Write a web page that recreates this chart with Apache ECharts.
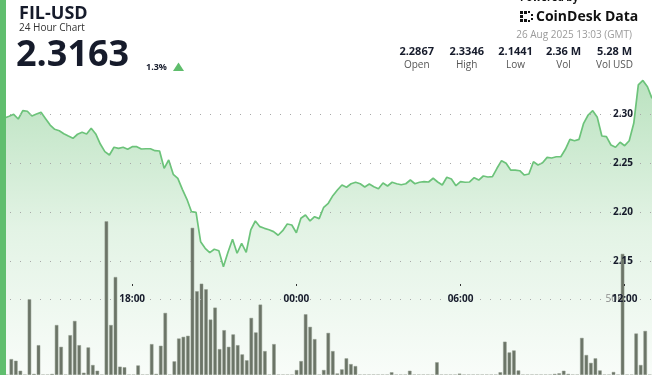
<!DOCTYPE html>
<html><head><meta charset="utf-8">
<script src="https://cdn.jsdelivr.net/npm/echarts@6/dist/echarts.min.js"></script>
<style>html,body{margin:0;padding:0;background:#fff}#c{width:652px;height:375px}</style>
</head><body><div id="c"></div>
<script>
// ---- data ----
const times = ['13:10','13:20','13:30','13:40','13:50','14:00','14:10','14:20','14:30','14:40','14:50','15:00','15:10','15:20','15:30','15:40','15:50','16:00','16:10','16:20','16:30','16:40','16:50','17:00','17:10','17:20','17:30','17:40','17:50','18:00','18:10','18:20','18:30','18:40','18:50','19:00','19:10','19:20','19:30','19:40','19:50','20:00','20:10','20:20','20:30','20:40','20:50','21:00','21:10','21:20','21:30','21:40','21:50','22:00','22:10','22:20','22:30','22:40','22:50','23:00','23:10','23:20','23:30','23:40','23:50','00:00','00:10','00:20','00:30','00:40','00:50','01:00','01:10','01:20','01:30','01:40','01:50','02:00','02:10','02:20','02:30','02:40','02:50','03:00','03:10','03:20','03:30','03:40','03:50','04:00','04:10','04:20','04:30','04:40','04:50','05:00','05:10','05:20','05:30','05:40','05:50','06:00','06:10','06:20','06:30','06:40','06:50','07:00','07:10','07:20','07:30','07:40','07:50','08:00','08:10','08:20','08:30','08:40','08:50','09:00','09:10','09:20','09:30','09:40','09:50','10:00','10:10','10:20','10:30','10:40','10:50','11:00','11:10','11:20','11:30','11:40','11:50','12:00','12:10','12:20','12:30','12:40','12:50','13:00'];
const price = [2.2960,2.2962,2.2980,2.3000,2.2952,2.3037,2.3031,2.2983,2.3003,2.3020,
 2.2955,2.2890,2.2847,2.2832,2.2802,2.2778,2.2755,2.2796,2.2816,2.2799,
 2.2857,2.2799,2.2696,2.2618,2.2584,2.2663,2.2652,2.2663,2.2642,2.2669,
 2.2669,2.2645,2.2648,2.2648,2.2628,2.2625,2.2448,2.2533,2.2386,2.2345,
 2.2233,2.2131,2.2004,2.1998,2.1697,2.1630,2.1585,2.1620,2.1605,2.1442,
 2.1589,2.1722,2.1579,2.1681,2.1589,2.1817,2.1909,2.1851,2.1834,2.1820,
 2.1800,2.1763,2.1810,2.1878,2.1868,2.1789,2.1937,2.1970,2.1909,2.1953,
 2.1933,2.2049,2.2090,2.2168,2.2226,2.2277,2.2254,2.2290,2.2305,2.2290,
 2.2257,2.2287,2.2260,2.2239,2.2298,2.2267,2.2305,2.2290,2.2280,2.2290,
 2.2328,2.2290,2.2305,2.2311,2.2308,2.2346,2.2308,2.2277,2.2356,2.2338,
 2.2270,2.2311,2.2305,2.2308,2.2352,2.2328,2.2369,2.2359,2.2362,2.2448,
 2.2526,2.2499,2.2430,2.2430,2.2423,2.2379,2.2390,2.2515,2.2482,2.2505,
 2.2560,2.2553,2.2566,2.2566,2.2642,2.2744,2.2730,2.2744,2.2908,2.2993,
 2.3037,2.2969,2.2778,2.2771,2.2686,2.2663,2.2714,2.2679,2.2730,2.2908,
 2.3300,2.3346,2.3282,2.3163];
const volume = [0,0,10.5,9.4,2.8,0,50,0.7,19.7,0,
 0,0.7,33,18.6,0,26.3,35.7,19.7,1.5,18.2,
 6.6,2.8,0,101.5,33,64.7,5.5,5.1,0,0,
 6.3,0,0,20.4,0.7,19.3,41,0,9,24.1,
 25.2,25.9,97.2,55.3,60.3,56.6,36.6,44.5,17.1,29.6,
 18.6,26.8,19.7,13.6,9.7,37.7,28.1,46.5,15.8,0,
 20.4,0,0,0,0,3.3,9.2,40.1,31.8,23.7,
 0,3.3,27.8,15.8,1,3.7,11,7.2,5.9,0,
 0,0,0,0,0,0,1.8,0,0,0,
 2.8,0,0,0,0,0,8.4,0,0,0,
 0,0.9,0,0,0,0,0,0,0,0,
 1.8,22,14.9,16.2,3,0,0,0,0,0,
 0,0,0.7,1.1,2.8,0.7,0,0,24.5,13.2,
 8,11,3,0,0,2,0,80,0,0,
 27.4,6.6,29.1,0];
const priceTicks = [2.15, 2.20, 2.25, 2.30];
const timeTicks = ['18:00', '00:00', '06:00', '12:00'];
const volTicks = [50];
const volTickLabels = ['50K'];
const symbol = 'FIL-USD';
const subtitle = '24 Hour Chart';
const lastPrice = '2.3163';
const change = '1.3%';
const stamp = '26 Aug 2025 13:03 (GMT)';
const statValues = ['2.2867', '2.3346', '2.1441', '2.36 M', '5.28 M'];
const statLabels = ['Open', 'High', 'Low', 'Vol', 'Vol USD'];

// ---- chart ----
const FONT = "'Open Sans', 'Noto Sans', sans-serif";
const DARK = '#161b2b';
const chart = echarts.init(document.getElementById('c'), null, {renderer: 'canvas'});
const showTime = (i, v) => timeTicks.indexOf(times[i]) >= 0;
const statX = [416.7, 466.7, 515.5, 563.5, 614.5];

const graphics = [
  {type: 'rect', shape: {x: 0, y: 0, width: 6, height: 375}, style: {fill: '#60be6e'}, z: 100},
  {type: 'text', x: 19, y: 14, style: {text: symbol, font: 'bold 18px ' + FONT, fill: DARK, textVerticalAlign: 'middle'}, z: 100},
  {type: 'text', x: 19, y: 28, style: {text: subtitle, font: '10px ' + FONT, fill: '#333', textVerticalAlign: 'middle'}, z: 100},
  {type: 'text', x: 16, y: 55.5, style: {text: lastPrice, font: 'bold 36px ' + FONT, fill: DARK, textVerticalAlign: 'middle'}, z: 100},
  {type: 'text', x: 146, y: 67, style: {text: change, font: 'bold 9px ' + FONT, fill: DARK, textVerticalAlign: 'middle'}, z: 100},
  {type: 'polygon', shape: {points: [[173, 71], [184, 71], [178.5, 62.5]]}, style: {fill: '#5fbd6c'}, z: 100},
  {type: 'text', x: 520, y: 3, style: {text: 'Powered by', font: 'bold 10px ' + FONT, fill: '#111', textVerticalAlign: 'bottom'}, z: 100},
  {type: 'text', x: 536, y: 17, style: {text: 'CoinDesk Data', font: 'bold 14px ' + FONT, fill: '#111', textVerticalAlign: 'middle'}, z: 100},
  {type: 'text', x: 632, y: 35, style: {text: stamp, font: '10px ' + FONT, fill: '#9a9a9a', textAlign: 'right', textVerticalAlign: 'middle'}, z: 100}
];
// CoinDesk logo blocks
[[520,11,3,3],[520,15,3,3],[520,19,3,3],[524,11,3,3],[524,19,3,3],[528,11,2,2],[528,20,2,2],[531,14,2,2],[531,18,2,2]].forEach(r => {
  graphics.push({type: 'rect', shape: {x: r[0], y: r[1], width: r[2], height: r[3]}, style: {fill: '#111'}, z: 100});
});
statValues.forEach((v, i) => {
  graphics.push({type: 'text', x: statX[i], y: 51.5, style: {text: v, font: 'bold 11px ' + FONT, fill: DARK, textAlign: 'center', textVerticalAlign: 'middle'}, z: 100});
  graphics.push({type: 'text', x: statX[i], y: 65.5, style: {text: statLabels[i], font: '10px ' + FONT, fill: '#555', textAlign: 'center', textVerticalAlign: 'middle'}, z: 100});
});

const dotted = {color: '#a8a8a8', width: 1, type: [1, 9]};

chart.setOption({
  animation: false,
  backgroundColor: '#fff',
  grid: [
    {left: 0, right: 0, top: 0, bottom: 0, outerBoundsMode: 'none', containLabel: false},
    {left: 0, right: 0, top: 72.2, bottom: 0, outerBoundsMode: 'none', containLabel: false}
  ],
  xAxis: [
    {type: 'category', gridIndex: 0, data: times, boundaryGap: false, position: 'bottom', offset: -91, z: 12,
     axisLine: {show: false},
     axisTick: {show: true, interval: showTime, length: 2, lineStyle: {color: '#333', width: 1}},
     axisLabel: {interval: showTime, margin: 10, fontSize: 10, fontWeight: 'bold', color: DARK, fontFamily: FONT},
     splitLine: {show: false}},
    {type: 'category', gridIndex: 1, data: times, boundaryGap: true, show: false}
  ],
  yAxis: [
    {type: 'value', gridIndex: 0, min: 2.0334, max: 2.4169, position: 'right', z: 10,
     axisLine: {show: false},
     axisTick: {show: false, customValues: priceTicks},
     axisLabel: {inside: true, customValues: priceTicks, margin: 19, fontSize: 10, fontWeight: 'bold', color: DARK, fontFamily: FONT,
                 formatter: v => v.toFixed(2)},
     splitLine: {show: true, lineStyle: dotted}},
    {type: 'value', gridIndex: 1, min: 0, max: 200, position: 'right', z: 9,
     axisLine: {show: false},
     axisTick: {show: false, customValues: volTicks},
     axisLabel: {inside: true, customValues: volTicks, margin: 29, fontSize: 10, color: '#8c8c8c', fontFamily: FONT,
                 formatter: v => volTickLabels[volTicks.indexOf(v)] || ''},
     splitLine: {show: true, lineStyle: dotted}}
  ],
  series: [
    {type: 'line', xAxisIndex: 0, yAxisIndex: 0, data: price, symbol: 'none', z: 2,
     lineStyle: {color: '#6cc37a', width: 1.7},
     areaStyle: {color: {type: 'linear', x: 0, y: 0, x2: 0, y2: 1, colorStops: [
       {offset: 0, color: 'rgba(98,189,110,0.62)'},
       {offset: 0.5, color: 'rgba(98,189,110,0.26)'},
       {offset: 1, color: 'rgba(98,189,110,0.06)'}]}}},
    {type: 'bar', xAxisIndex: 1, yAxisIndex: 1, data: volume, barWidth: 3.5, z: 3,
     itemStyle: {color: '#6b7467', borderColor: '#919a8d', borderWidth: 0.5}}
  ],
  graphic: graphics
});
</script></body></html>
